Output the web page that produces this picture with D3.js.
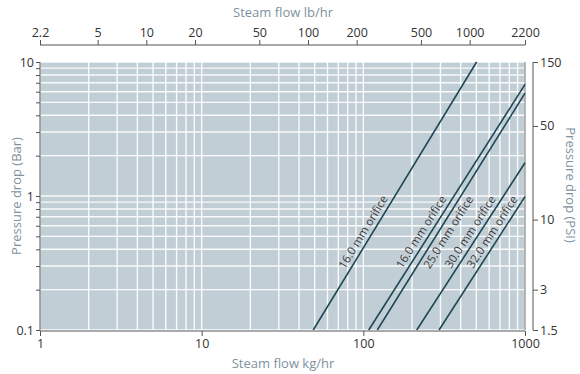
<!DOCTYPE html>
<html>
<head>
<meta charset="utf-8">
<script src="https://cdn.jsdelivr.net/npm/d3@7"></script>
<style>
  body { margin: 0; background: #fff; }
  svg text { font-family: "Open Sans", sans-serif; }
</style>
</head>
<body>
<svg class="chart" width="580" height="374"></svg>
<script>
// flow in kg/hr, pressure drop in bar: each orifice line is a straight segment on log-log
var orificeNames = ["16.0 mm orifice", "16.0 mm orifice", "25.0 mm orifice", "30.0 mm orifice", "32.0 mm orifice"];
var flowStart = [49, 108, 122, 214, 294];
var flowEnd = [502, 1000, 1000, 1000, 1000];
var dropStart = [0.1, 0.1, 0.1, 0.1, 0.1];
var dropEnd = [10, 6.8, 5.85, 1.77, 0.99];

var kgTicks = [1, 10, 100, 1000];
var lbTicks = [2.2, 5, 10, 20, 50, 100, 200, 500, 1000, 2200];
var barTicks = [0.1, 1, 10];
var psiTicks = [1.5, 3, 10, 50, 150];

var chart = d3.select("svg.chart"),
    pLeft = 40, pRight = 525, pTop = 62, pBottom = 330,
    lineCol = "#1d4853", titleCol = "#7d92a0", textCol = "#333";

var xScale = d3.scaleLog().domain([1, 1000]).range([pLeft, pRight]);
var xTop = d3.scaleLog().domain([2.2, 2200]).range([pLeft, pRight]);
var yScale = d3.scaleLog().domain([0.1, 10]).range([pBottom, pTop]);
var yPsi = d3.scaleLog().domain([1.5, 150]).range([pBottom, pTop]);

// minor grid values 1..9 per decade
var xGrid = [], yGrid = [];
[1, 10, 100].forEach(function (d) { for (var k = 1; k < 10; k++) xGrid.push(d * k); });
xGrid.push(1000);
[0.1, 1].forEach(function (d) { for (var k = 1; k < 10; k++) yGrid.push(+(d * k).toFixed(2)); });
yGrid.push(10);

chart.append("rect")
  .attr("x", pLeft).attr("y", pTop)
  .attr("width", pRight - pLeft).attr("height", pBottom - pTop)
  .attr("fill", "#c2ced6");

chart.append("g").selectAll("line").data(xGrid).enter().append("line")
  .attr("x1", function (d) { return xScale(d); })
  .attr("x2", function (d) { return xScale(d); })
  .attr("y1", pTop).attr("y2", pBottom)
  .attr("stroke", "#fff").attr("stroke-width", 1.4).attr("stroke-opacity", 0.9);

chart.append("g").selectAll("line").data(yGrid).enter().append("line")
  .attr("y1", function (d) { return yScale(d); })
  .attr("y2", function (d) { return yScale(d); })
  .attr("x1", pLeft).attr("x2", pRight)
  .attr("stroke", "#fff").attr("stroke-width", 1.4).attr("stroke-opacity", 0.9);

// right border of the plot
chart.append("line")
  .attr("x1", pRight).attr("x2", pRight).attr("y1", pTop).attr("y2", pBottom)
  .attr("stroke", "#6f7275").attr("stroke-width", 1);

// orifice lines
var idx = d3.range(orificeNames.length);
chart.append("g").selectAll("line").data(idx).enter().append("line")
  .attr("x1", function (i) { return xScale(flowStart[i]); })
  .attr("y1", function (i) { return yScale(dropStart[i]); })
  .attr("x2", function (i) { return xScale(flowEnd[i]); })
  .attr("y2", function (i) { return yScale(dropEnd[i]); })
  .attr("stroke", lineCol).attr("stroke-width", 1.6);

// labels along lines; the 25 mm one sits on the lower side
chart.append("g").selectAll("text").data(idx).enter().append("text")
  .attr("transform", function (i) {
    var x1 = xScale(flowStart[i]), y1 = yScale(dropStart[i]),
        x2 = xScale(flowEnd[i]), y2 = yScale(dropEnd[i]);
    var ang = Math.atan2(y2 - y1, x2 - x1) * 180 / Math.PI;
    var side = i === 2 ? 1 : -1;
    var py = 232 - side * 4.4;
    var px = x1 + (py - y1) / (y2 - y1) * (x2 - x1);
    return "translate(" + px + "," + py + ") rotate(" + ang + ")";
  })
  .attr("y", function (i) { return i === 2 ? 8.5 : -8.5; })
  .attr("dy", "0.35em")
  .attr("text-anchor", "middle")
  .attr("font-size", "11.5px")
  .attr("fill", "#3a3a3a")
  .text(function (i) { return orificeNames[i]; });

// axes
var yAxis = d3.axisLeft(yScale).tickValues(yGrid).tickSize(4)
  .tickFormat(function (d) { return barTicks.indexOf(d) >= 0 ? d3.format("~g")(d) : ""; });
var xAxis = d3.axisBottom(xScale).tickValues(kgTicks).tickSize(5).tickFormat(d3.format("~g"));
var topAxis = d3.axisTop(xTop).tickValues(lbTicks).tickSize(5).tickFormat(d3.format("~g"));
var psiAxis = d3.axisRight(yPsi).tickValues(psiTicks).tickSize(5).tickFormat(d3.format("~g"));

function style(g) {
  g.selectAll(".domain").attr("stroke", "#555");
  g.selectAll(".tick line").attr("stroke", "#555");
  g.selectAll("text").attr("font-size", "12.5px").attr("fill", textCol)
    .attr("font-family", "Open Sans, sans-serif");
}

chart.append("g").attr("id", "yAxisG").attr("transform", "translate(" + pLeft + ",0)")
  .call(yAxis).call(style)
  .call(function (g) { g.select(".domain").attr("d", "M0," + pTop + "V" + pBottom); g.selectAll("text").attr("x", -6); });
chart.append("g").attr("id", "xAxisG").attr("transform", "translate(0," + (pBottom + 1) + ")")
  .call(xAxis).call(style)
  .call(function (g) { g.select(".domain").attr("d", "M" + pLeft + ",0H" + pRight); });
chart.append("g").attr("id", "topAxisG").attr("transform", "translate(0,45)")
  .call(topAxis).call(style)
  .call(function (g) { g.select(".domain").attr("d", "M" + pLeft + ",0H" + pRight); });
chart.append("g").attr("id", "psiAxisG").attr("transform", "translate(533,0)")
  .call(psiAxis).call(style)
  .call(function (g) { g.select(".domain").attr("d", "M0," + pTop + "V" + pBottom); g.selectAll("text").attr("x", 7); });

// titles
chart.append("text").attr("x", 283).attr("y", 17).attr("text-anchor", "middle")
  .attr("font-size", "13px").attr("fill", titleCol).text("Steam flow lb/hr");
chart.append("text").attr("x", 283).attr("y", 368).attr("text-anchor", "middle")
  .attr("font-size", "13px").attr("fill", titleCol).text("Steam flow kg/hr");
chart.append("text").attr("transform", "translate(21,196) rotate(-90)").attr("text-anchor", "middle")
  .attr("font-size", "13px").attr("fill", titleCol).text("Pressure drop (Bar)");
chart.append("text").attr("transform", "translate(566,185) rotate(90)").attr("text-anchor", "middle")
  .attr("font-size", "13px").attr("fill", titleCol).text("Pressure drop (PSI)");
</script>
</body>
</html>
